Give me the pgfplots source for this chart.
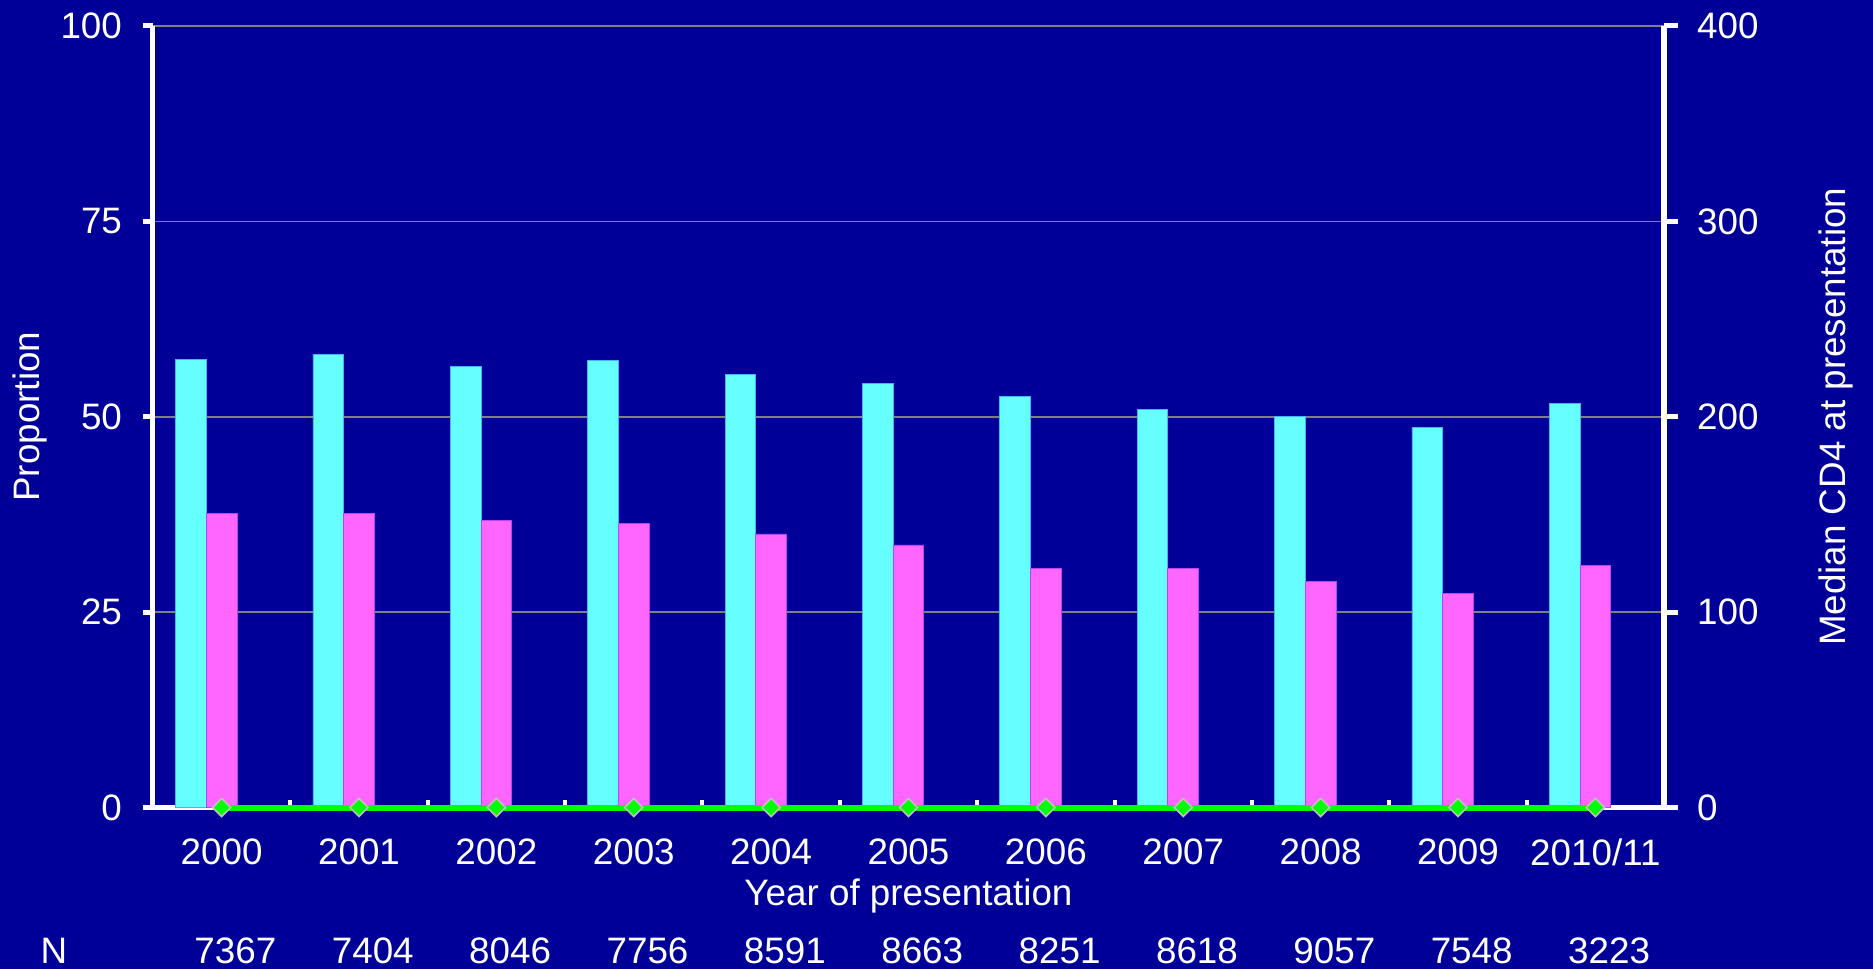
\documentclass[border=0pt]{standalone}
\usepackage{fontspec}
\setmainfont{Liberation Sans}
\usepackage{pgfplots}
\pgfplotsset{compat=1.18}
\definecolor{bg}{RGB}{0,0,153}
\definecolor{cy}{RGB}{102,255,255}
\definecolor{mg}{RGB}{255,102,255}
\definecolor{gr}{RGB}{0,255,0}
\begin{document}
\begin{tikzpicture}[font=\fontsize{18.4}{22}\selectfont]
\fill[bg] (-76.5pt,-80.75pt) rectangle (860pt,403.75pt);
\path[use as bounding box] (-76.5pt,-80.75pt) rectangle (860pt,403.75pt);
\begin{axis}[
 at={(0,0)}, anchor=south west, scale only axis,
 width=755.5pt, height=390.75pt,
 xmin=-0.5, xmax=10.5, ymin=0, ymax=100,
 axis x line*=bottom, axis y line*=left,
 axis line style={white, line width=2.5pt, -},
 tick align=outside,
 ytick={0,25,50,75,100},
 ymajorgrids, grid style={gray, line width=0.8pt},
 xtick={0,...,10},
 xticklabels={2000,2001,2002,2003,2004,2005,2006,2007,2008,2009,2010/11},
 major x tick style={draw=none},
 minor xtick={0.5,1.5,...,9.5},
 minor tick length=4pt,
 minor x tick style={white, line width=2pt, yshift=4pt},
 major tick length=5pt,
 major y tick style={white, line width=2.5pt},
 tick label style={white, font=\fontsize{18.4}{22}\selectfont},
 /pgf/number format/assume math mode=true,
 xticklabel style={yshift=-7pt},
 yticklabel style={xshift=-7pt},
 clip=false,
]
\addplot[ybar, bar width=0.2235, bar shift=-0.2235, fill=cy, draw=cy!70!blue, line width=0.4pt]
 coordinates {(0,57.3)(1,58.0)(2,56.4)(3,57.2)(4,55.4)(5,54.3)(6,52.6)(7,50.9)(8,50.0)(9,48.6)(10,51.7)};
\addplot[ybar, bar width=0.2235, bar shift=0, fill=mg, draw=mg!70!blue, line width=0.4pt]
 coordinates {(0,37.6)(1,37.6)(2,36.7)(3,36.4)(4,35.0)(5,33.6)(6,30.6)(7,30.6)(8,28.9)(9,27.4)(10,31.0)};
\node[white, rotate=90] at (axis description cs:-0.0814,0.5) {Proportion};
\node[white] at (axis description cs:0.5,-0.1126) {Year of presentation};
\node[white] at (axis description cs:-0.0655,-0.1836) {N};
\node[white] at (axis cs:0.1,0) [yshift=-71.75pt] {7367};
\node[white] at (axis cs:1.1,0) [yshift=-71.75pt] {7404};
\node[white] at (axis cs:2.1,0) [yshift=-71.75pt] {8046};
\node[white] at (axis cs:3.1,0) [yshift=-71.75pt] {7756};
\node[white] at (axis cs:4.1,0) [yshift=-71.75pt] {8591};
\node[white] at (axis cs:5.1,0) [yshift=-71.75pt] {8663};
\node[white] at (axis cs:6.1,0) [yshift=-71.75pt] {8251};
\node[white] at (axis cs:7.1,0) [yshift=-71.75pt] {8618};
\node[white] at (axis cs:8.1,0) [yshift=-71.75pt] {9057};
\node[white] at (axis cs:9.1,0) [yshift=-71.75pt] {7548};
\node[white] at (axis cs:10.1,0) [yshift=-71.75pt] {3223};
\end{axis}
\begin{axis}[
 at={(0,0)}, anchor=south west, scale only axis,
 width=755.5pt, height=390.75pt,
 xmin=-0.5, xmax=10.5, ymin=0, ymax=400,
 axis y line*=right, axis x line=none,
 axis line style={white, line width=3pt, -},
 tick align=outside,
 ytick={0,100,200,300,400},
 major tick length=7pt,
 major y tick style={white, line width=2.5pt},
 tick label style={white, font=\fontsize{18.4}{22}\selectfont},
 yticklabel style={xshift=6pt},
 /pgf/number format/assume math mode=true,
 clip=false,
]
\addplot[gr, line width=3pt, mark=square*, mark size=3.2pt,
 mark options={rotate=45, fill=gr, draw=lightgray, line width=0.8pt}]
 coordinates {(0,0)(1,0)(2,0)(3,0)(4,0)(5,0)(6,0)(7,0)(8,0)(9,0)(10,0)};
\node[white, rotate=90] at (axis description cs:1.1138,0.5) {Median CD4 at presentation};
\end{axis}
\end{tikzpicture}
\end{document}
